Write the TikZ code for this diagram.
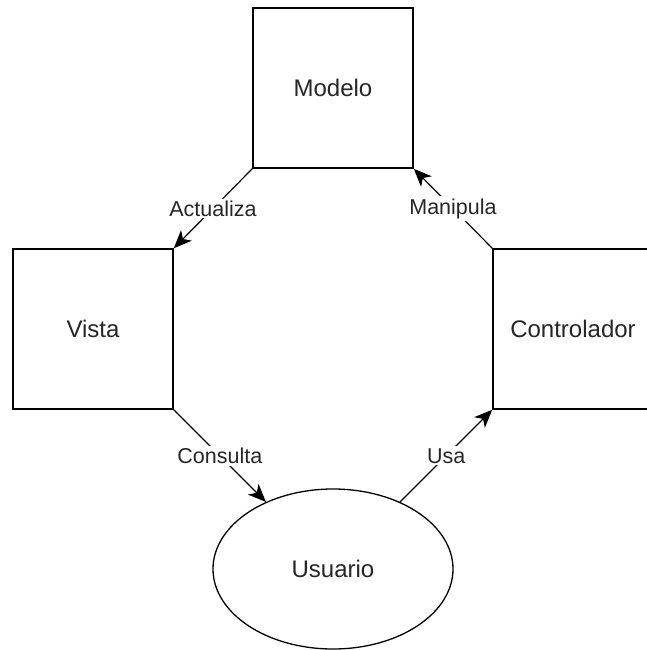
\documentclass[tikz,border=0pt]{standalone}
\usepackage{fontspec}
\setmainfont{Liberation Sans}
\usetikzlibrary{arrows.meta,shapes.geometric}
\begin{document}
\begin{tikzpicture}[x=1pt,y=-1pt,
  box/.style={draw, line width=1.5pt, minimum width=160pt, minimum height=160pt, inner sep=0pt, font=\fontsize{24}{28}\selectfont, text=black!85},
  ell/.style={draw, ellipse, line width=1.3pt, minimum width=240pt, minimum height=160pt, inner sep=0pt, font=\fontsize{24}{28}\selectfont, text=black!85},
  edge/.style={line width=1.2pt, -{Stealth[length=18pt,width=15pt,inset=5pt]}},
  lbl/.style={fill=white, inner sep=2pt, font=\fontsize{21.5}{26}\selectfont, text=black!85}
]
\useasboundingbox (0,0) rectangle (646,650);
\fill[white] (0,0) rectangle (646,650);
\node[box] (m) at (333,88) {Modelo};
\node[box] (v) at (93,329) {Vista};
\node[box] (c) at (573,329) {Controlador};
\node[ell] (u) at (333,569) {Usuario};
\draw[edge] (m.south west) -- node[lbl] (la) {Actualiza} (v.north east);
\draw[edge] (c.north west) -- node[lbl] (lm) {Manipula} (m.south east);
\draw[edge] (v.south east) -- node[lbl] (lc) {Consulta} (u.135);
\draw[edge] (u.45) -- node[lbl] (lu) {Usa} (c.south west);
\end{tikzpicture}
\end{document}
